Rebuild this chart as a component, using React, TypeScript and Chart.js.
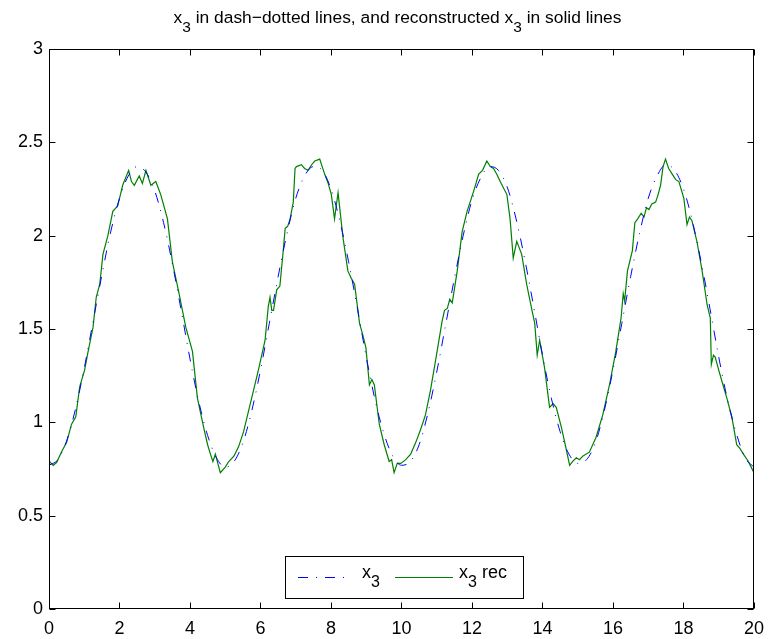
import React, { useEffect, useRef } from "react";
import { Chart, registerables } from "chart.js";

Chart.register(...registerables);

// x3 (dash-dotted), read every 0.25
const x3Times = [
  0, 0.25, 0.5, 0.75, 1, 1.25, 1.5, 1.75, 2, 2.25, 2.5, 2.75, 3, 3.25, 3.5, 3.75, 4, 4.25, 4.5, 4.75,
  5, 5.25, 5.5, 5.75, 6, 6.25, 6.5, 6.75, 7, 7.25, 7.5, 7.75, 8, 8.25, 8.5, 8.75, 9, 9.25, 9.5, 9.75,
  10, 10.25, 10.5, 10.75, 11, 11.25, 11.5, 11.75, 12, 12.25, 12.5, 12.75, 13, 13.25, 13.5, 13.75, 14, 14.25, 14.5, 14.75,
  15, 15.25, 15.5, 15.75, 16, 16.25, 16.5, 16.75, 17, 17.25, 17.5, 17.75, 18, 18.25, 18.5, 18.75, 19, 19.25, 19.5, 19.75,
  20,
];
const x3Values = [
  0.77, 0.8, 0.9, 1.07, 1.29, 1.54, 1.79, 2.02, 2.2, 2.32, 2.37, 2.34, 2.24, 2.07, 1.85, 1.6, 1.34, 1.11, 0.93, 0.81,
  0.76, 0.79, 0.89, 1.06, 1.28, 1.53, 1.78, 2.01, 2.2, 2.32, 2.37, 2.35, 2.25, 2.08, 1.86, 1.61, 1.35, 1.12, 0.94, 0.82,
  0.77, 0.79, 0.88, 1.05, 1.27, 1.52, 1.77, 2.0, 2.19, 2.31, 2.37, 2.35, 2.26, 2.09, 1.87, 1.62, 1.36, 1.13, 0.95, 0.83,
  0.78, 0.8, 0.89, 1.06, 1.28, 1.53, 1.78, 2.01, 2.2, 2.32, 2.38, 2.35, 2.25, 2.08, 1.86, 1.61, 1.35, 1.12, 0.94, 0.81,
  0.76,
];

// reconstructed x3 (solid)
const recTimes = [
  0, 0.03, 0.12, 0.22, 0.35, 0.5, 0.64, 0.76, 0.87, 1.01, 1.11, 1.25, 1.34, 1.44, 1.53, 1.67, 1.81, 1.95, 2.09, 2.26,
  2.34, 2.42, 2.56, 2.65, 2.75, 2.89, 3.03, 3.17, 3.36, 3.5, 3.69, 3.88, 4.07, 4.21, 4.39, 4.5, 4.58, 4.65, 4.72, 4.86,
  5.0, 5.1, 5.25, 5.38, 5.52, 5.66, 5.8, 5.94, 6.13, 6.22, 6.27, 6.32, 6.37, 6.46, 6.55, 6.65, 6.7, 6.77, 6.84, 6.93,
  6.98, 7.02, 7.16, 7.25, 7.35, 7.45, 7.54, 7.68, 7.82, 7.92, 8.01, 8.1, 8.2, 8.34, 8.48, 8.58, 8.67, 8.81, 8.9, 8.99,
  9.09, 9.16, 9.23, 9.37, 9.51, 9.65, 9.72, 9.79, 9.88, 9.98, 10.12, 10.26, 10.4, 10.54, 10.68, 10.82, 10.92, 11.01, 11.15, 11.22,
  11.3, 11.37, 11.44, 11.58, 11.72, 11.86, 12.05, 12.19, 12.3, 12.42, 12.52, 12.61, 12.7, 12.8, 12.99, 13.08, 13.17, 13.27, 13.41, 13.55,
  13.69, 13.78, 13.85, 13.92, 14.06, 14.2, 14.3, 14.39, 14.54, 14.68, 14.77, 14.85, 14.96, 15.05, 15.15, 15.33, 15.52, 15.71, 15.9, 16.08,
  16.23, 16.29, 16.33, 16.41, 16.55, 16.62, 16.7, 16.8, 16.88, 16.95, 17.02, 17.1, 17.21, 17.28, 17.35, 17.42, 17.49, 17.58, 17.68, 17.78,
  17.87, 18.01, 18.1, 18.17, 18.24, 18.38, 18.53, 18.67, 18.76, 18.79, 18.85, 18.9, 19.0, 19.09, 19.23, 19.37, 19.51, 19.6, 19.7, 19.84,
  19.92, 20.0,
];
const recValues = [
  0.8, 0.786, 0.769, 0.786, 0.84, 0.893, 0.99, 1.03, 1.19, 1.28, 1.38, 1.51, 1.67, 1.74, 1.9, 2.0, 2.13, 2.16, 2.27, 2.35,
  2.29, 2.27, 2.32, 2.28, 2.35, 2.27, 2.29, 2.22, 2.09, 1.86, 1.69, 1.51, 1.38, 1.13, 0.97, 0.88, 0.83, 0.79, 0.83, 0.73,
  0.76, 0.79, 0.82, 0.87, 0.95, 1.06, 1.17, 1.28, 1.44, 1.62, 1.67, 1.6, 1.6, 1.71, 1.73, 1.93, 2.04, 2.05, 2.09, 2.18,
  2.36, 2.37, 2.38, 2.36, 2.35, 2.38, 2.4, 2.41, 2.33, 2.28, 2.22, 2.09, 2.23, 1.99, 1.81, 1.77, 1.74, 1.53, 1.47, 1.4,
  1.2, 1.23, 1.2, 0.99, 0.88, 0.79, 0.8, 0.73, 0.78, 0.78, 0.8, 0.83, 0.89, 0.96, 1.04, 1.17, 1.28, 1.38, 1.54, 1.6,
  1.61, 1.66, 1.64, 1.81, 2.02, 2.13, 2.24, 2.33, 2.35, 2.4, 2.37, 2.36, 2.33, 2.29, 2.22, 2.09, 1.88, 1.97, 1.9, 1.74,
  1.61, 1.53, 1.36, 1.44, 1.29, 1.08, 1.1, 1.08, 0.97, 0.85, 0.77, 0.79, 0.81, 0.8, 0.82, 0.84, 0.92, 1.04, 1.2, 1.38,
  1.56, 1.69, 1.65, 1.81, 1.92, 2.07, 2.09, 2.12, 2.1, 2.15, 2.14, 2.17, 2.18, 2.22, 2.27, 2.37, 2.41, 2.36, 2.33, 2.3,
  2.29, 2.2, 2.06, 2.1, 2.08, 1.97, 1.81, 1.63, 1.56, 1.31, 1.36, 1.35, 1.28, 1.22, 1.13, 1.03, 0.88, 0.86, 0.83, 0.79,
  0.76, 0.73,
];

const xTickStep = 2;
const yTickStep = 0.5;

const FONT = "'Liberation Sans', Arial, Helvetica, sans-serif";
const BLUE = "rgb(0,0,255)";
const GREEN = "rgb(0,128,0)";
const DASHDOT = [10, 8, 1, 8];

type Part = { t: string; sub?: boolean };

function measureParts(ctx: CanvasRenderingContext2D, parts: Part[], size: number, subSize: number) {
  let w = 0;
  for (const p of parts) {
    ctx.font = `${p.sub ? subSize : size}px ${FONT}`;
    w += ctx.measureText(p.t).width;
  }
  return w;
}

function drawParts(
  ctx: CanvasRenderingContext2D,
  parts: Part[],
  x: number,
  y: number,
  size: number,
  subSize: number,
  subDrop: number
) {
  ctx.textAlign = "left";
  ctx.textBaseline = "alphabetic";
  ctx.fillStyle = "#000";
  let cx = x;
  for (const p of parts) {
    ctx.font = `${p.sub ? subSize : size}px ${FONT}`;
    ctx.fillText(p.t, cx, p.sub ? y + subDrop : y);
    cx += ctx.measureText(p.t).width;
  }
}

const titleParts: Part[] = [
  { t: "x" },
  { t: "3", sub: true },
  { t: " in dash\u2212dotted lines, and reconstructed x" },
  { t: "3", sub: true },
  { t: " in solid lines" },
];
const legendLabel1: Part[] = [{ t: "x" }, { t: "3", sub: true }];
const legendLabel2: Part[] = [{ t: "x" }, { t: "3", sub: true }, { t: " rec" }];

const framePlugin = {
  id: "matlabFrame",
  afterDatasetsDraw(chart: any) {
    const ctx: CanvasRenderingContext2D = chart.ctx;
    const { left, right, top, bottom } = chart.chartArea;
    const L = Math.round(left) + 0.5;
    const R = Math.round(right) - 0.5;
    const T = Math.round(top) + 0.5;
    const B = Math.round(bottom) - 0.5;
    ctx.save();
    ctx.strokeStyle = "#000";
    ctx.lineWidth = 1;
    ctx.setLineDash([]);
    ctx.strokeRect(L, T, R - L, B - T);
    const tl = 6;
    ctx.beginPath();
    const xs = chart.scales.x;
    for (const tk of xs.ticks) {
      const px = Math.round(xs.getPixelForValue(tk.value)) + 0.5;
      ctx.moveTo(px, B);
      ctx.lineTo(px, B - tl);
      ctx.moveTo(px, T);
      ctx.lineTo(px, T + tl);
    }
    const ys = chart.scales.y;
    for (const tk of ys.ticks) {
      const py = Math.round(ys.getPixelForValue(tk.value)) + 0.5;
      ctx.moveTo(L, py);
      ctx.lineTo(L + tl, py);
      ctx.moveTo(R, py);
      ctx.lineTo(R - tl, py);
    }
    ctx.stroke();

    // legend box (lower centre, inside the axes)
    const lx = 285.5;
    const ly = 556.5;
    const lw = 238;
    const lh = 42;
    ctx.fillStyle = "#fff";
    ctx.fillRect(lx, ly, lw, lh);
    ctx.strokeRect(lx, ly, lw, lh);
    const midY = ly + 21;
    ctx.beginPath();
    ctx.strokeStyle = BLUE;
    ctx.setLineDash(DASHDOT);
    ctx.moveTo(298, midY);
    ctx.lineTo(348, midY);
    ctx.stroke();
    ctx.beginPath();
    ctx.setLineDash([]);
    ctx.strokeStyle = GREEN;
    ctx.moveTo(395, midY);
    ctx.lineTo(453, midY);
    ctx.stroke();
    drawParts(ctx, legendLabel1, 362, midY, 18, 16, 9);
    drawParts(ctx, legendLabel2, 459, midY, 18, 16, 9);

    // title
    const tw = measureParts(ctx, titleParts, 17.4, 15.5);
    const cx = 397.5;
    drawParts(ctx, titleParts, cx - tw / 2, 23, 17.4, 15.5, 9);
    ctx.restore();
  },
};

export default function App() {
  const ref = useRef<HTMLCanvasElement | null>(null);
  useEffect(() => {
    if (!ref.current) return;
    const x3Data = x3Times.map((t, i) => ({ x: t, y: x3Values[i] }));
    const recData = recTimes.map((t, i) => ({ x: t, y: recValues[i] }));
    const chart = new Chart(ref.current, {
      type: "line",
      data: {
        datasets: [
          {
            label: "x3",
            data: x3Data,
            borderColor: BLUE,
            borderWidth: 1,
            borderDash: DASHDOT,
            pointRadius: 0,
            cubicInterpolationMode: "monotone",
            fill: false,
          },
          {
            label: "x3 rec",
            data: recData,
            borderColor: GREEN,
            borderWidth: 1.2,
            pointRadius: 0,
            tension: 0,
            fill: false,
          },
        ],
      },
      options: {
        responsive: false,
        animation: false,
        devicePixelRatio: 1,
        events: [],
        layout: { padding: { top: 49, right: 14, left: 0, bottom: 0 } },
        plugins: {
          legend: { display: false },
          title: { display: false },
          tooltip: { enabled: false },
        },
        scales: {
          x: {
            type: "linear",
            min: 0,
            max: 20,
            border: { display: false },
            grid: { display: false, drawTicks: false },
            ticks: {
              stepSize: xTickStep,
              padding: 9,
              color: "#000",
              font: { family: FONT, size: 18 },
              maxRotation: 0,
              autoSkip: false,
              callback: (v: any) => String(Number(v)),
            },
            afterFit: (s: any) => {
              s.height = 30;
            },
          },
          y: {
            type: "linear",
            min: 0,
            max: 3,
            border: { display: false },
            grid: { display: false, drawTicks: false },
            ticks: {
              stepSize: yTickStep,
              padding: 6,
              color: "#000",
              font: { family: FONT, size: 18 },
              callback: (v: any) => String(Number(v)),
            },
            afterFit: (s: any) => {
              s.width = 49;
            },
          },
        },
      },
      plugins: [framePlugin],
    } as any);
    return () => chart.destroy();
  }, []);
  return (
    <div style={{ position: "absolute", left: 0, top: 0, width: 773, height: 639, background: "#fff" }}>
      <canvas ref={ref} width={773} height={639} style={{ display: "block" }} />
    </div>
  );
}
